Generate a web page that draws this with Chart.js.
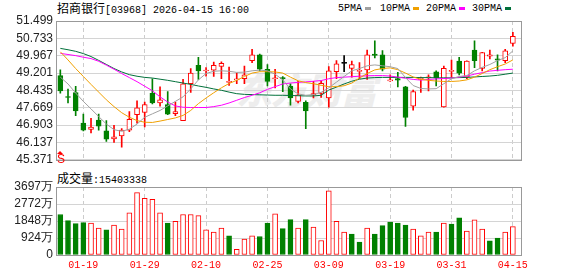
<!DOCTYPE html>
<html><head><meta charset="utf-8">
<script src="https://cdn.jsdelivr.net/npm/chart.js@4.4.1/dist/chart.umd.min.js"></script>
<style>
body{margin:0;background:#fff;width:578px;height:276px;overflow:hidden;position:relative;}
canvas{position:absolute;left:0;}
.t{position:absolute;white-space:nowrap;color:#000;line-height:14px;}
.cjk{font-family:"Noto Sans CJK SC",sans-serif;font-size:12px;}
.mono{font-family:"Liberation Mono","DejaVu Sans Mono",monospace;font-size:10px;}
.sq{position:absolute;width:6px;height:3px;}
#wm{position:absolute;left:236px;top:68px;font-family:"Noto Sans CJK SC",sans-serif;font-size:36px;font-weight:900;font-style:italic;color:#ededed;letter-spacing:-1px;line-height:40px;}
</style></head><body>
<div id="wm">东方财富</div>
<div class="t" style="left:57px;top:1px;"><span class="cjk">招商银行</span><span class="mono">[03968] 2026-04-15 16:00</span></div>
<div class="t mono" style="left:338px;top:2px;">5PMA</div><div class="sq" style="left:365px;top:7px;background:#a0a0a0"></div>
<div class="t mono" style="left:380px;top:2px;">10PMA</div><div class="sq" style="left:413px;top:7px;background:#f0a000"></div>
<div class="t mono" style="left:426px;top:2px;">20PMA</div><div class="sq" style="left:459px;top:7px;background:#ff00ff"></div>
<div class="t mono" style="left:472px;top:2px;">30PMA</div><div class="sq" style="left:505px;top:7px;background:#00703a"></div>
<div class="t" style="left:57px;top:171px;"><span class="cjk">成交量</span><span class="mono">:15403338</span></div>
<canvas id="c1" width="578" height="170" style="top:0"></canvas>
<canvas id="c2" width="578" height="106" style="top:170px"></canvas>
<div style="position:absolute;left:57px;top:151px;width:0;height:0;border-left:3px solid transparent;border-right:3px solid transparent;border-bottom:3px solid #ff0000;"></div>
<div class="t" style="left:57px;top:152px;color:#ff0000;font-family:'Liberation Sans Narrow','Liberation Sans',sans-serif;font-size:12px;">S</div>
<script>
const dateLabels = ['01-19','01-29','02-10','02-25','03-09','03-19','03-31','04-15'];
const dateIndex = [3,11,19,27,35,43,51,59];
const priceTicks = [45.371,46.137,46.903,47.669,48.435,49.201,49.967,50.733,51.499];
const volTicks = [0,924,1848,2772,3697];

const openP  = [49.09,48.15,48.34,46.99,46.71,47.13,46.65,46.29,46.42,46.68,47.36,47.46,48.31,47.88,47.81,47.41,47.10,48.73,49.54,49.29,
                49.33,49.49,48.79,48.90,48.95,49.75,50.01,49.37,48.95,49.00,48.63,47.95,47.91,48.24,48.30,48.10,49.26,49.63,49.41,49.27,
                49.34,50.04,50.01,48.85,48.96,48.59,47.74,48.92,48.99,49.26,47.71,49.27,49.73,49.02,50.22,49.40,49.95,49.83,49.75,50.51];
const highP  = [49.34,48.49,48.62,47.39,47.20,47.39,47.10,46.89,46.75,47.50,47.98,47.92,48.95,48.59,48.38,47.92,48.92,49.40,49.90,49.44,
                49.68,49.70,49.47,49.20,49.51,50.25,50.04,49.58,49.37,49.05,48.73,48.83,47.98,48.83,48.86,49.49,49.75,49.97,49.73,49.66,
                50.22,50.62,50.19,49.12,49.23,48.62,48.45,49.02,49.12,49.30,49.51,49.77,49.90,49.74,50.62,50.12,50.22,50.01,50.25,51.00];
const lowP   = [48.31,47.88,47.32,46.65,46.56,46.68,46.18,46.14,45.93,46.61,46.99,46.82,47.84,47.74,47.36,47.32,47.10,48.35,48.92,49.06,
                49.05,48.95,48.66,48.73,48.73,49.66,49.30,48.63,48.55,48.38,47.78,47.88,46.75,48.10,48.12,47.70,48.95,49.26,49.02,48.95,
                48.92,49.87,49.30,48.83,48.59,46.85,47.56,48.35,48.41,48.63,47.70,49.02,49.12,48.95,49.44,49.30,49.83,49.30,49.66,50.39];
const closeP = [48.41,48.12,47.53,46.68,46.82,46.86,46.28,46.39,46.68,47.16,47.67,47.81,47.88,48.02,47.39,47.50,48.73,49.20,49.30,49.33,
                49.54,49.63,48.83,48.95,49.12,50.01,49.37,48.83,48.99,48.95,48.10,48.24,47.53,48.29,48.75,49.30,49.61,49.63,49.58,49.32,
                50.01,49.98,49.37,48.90,48.89,47.24,48.38,48.97,49.03,48.99,49.41,49.32,49.20,49.73,49.75,50.11,50.00,49.77,50.18,50.82];
// volume in 万
const volume = [2200,1870,1705,1760,1741,1466,1375,1631,1411,2291,3391,3080,3025,2291,1741,1833,2200,2200,2145,1375,
                1246,1466,1045,312,861,1045,1008,1741,2236,1430,1925,1466,1925,1521,788,3483,1833,1246,1137,697,
                1466,1137,1595,1796,1741,1631,1411,1045,1246,1246,1741,1686,2016,1301,1906,1411,770,917,1246,1540];
const ma5  = [49.02,48.72,48.32,47.95,47.62,47.28,46.95,46.70,46.63,46.72,46.95,47.25,47.40,47.55,47.75,47.95,48.15,48.50,48.90,49.18,
              49.28,49.30,49.28,49.23,49.24,49.30,49.33,49.30,49.15,48.90,48.50,48.28,48.22,48.25,48.35,48.55,48.80,49.05,49.30,49.40,
              49.52,49.56,49.52,49.48,49.40,49.00,48.65,48.52,48.50,48.51,48.73,48.95,49.05,49.09,49.30,49.45,49.58,49.75,49.88,50.18];
const ma10 = [50.14,49.78,49.40,49.05,48.70,48.36,48.02,47.72,47.45,47.25,47.10,47.03,47.02,47.08,47.15,47.22,47.33,47.55,47.85,48.10,
              48.33,48.55,48.74,48.88,49.05,49.20,49.26,49.26,49.25,49.20,49.02,48.86,48.78,48.73,48.66,48.60,48.60,48.64,48.76,48.98,
              49.18,49.34,49.40,49.43,49.35,49.20,49.03,48.92,48.88,48.85,48.83,48.83,48.85,48.90,49.02,49.18,49.35,49.48,49.60,49.78];
const ma20 = [50.07,50.02,49.97,49.90,49.84,49.72,49.55,49.37,49.18,49.00,48.82,48.62,48.42,48.15,47.92,47.75,47.69,47.68,47.68,47.68,
              47.72,47.78,47.88,48.00,48.12,48.22,48.33,48.48,48.60,48.72,48.76,48.79,48.81,48.84,48.87,48.95,49.00,49.02,49.04,49.06,
              49.08,49.09,49.09,49.07,49.02,48.97,48.92,48.89,48.92,48.94,48.96,48.98,49.02,49.07,49.15,49.22,49.29,49.32,49.35,49.37];
const ma30 = [50.29,50.23,50.16,50.06,49.93,49.76,49.58,49.40,49.25,49.13,49.06,49.01,48.98,48.93,48.88,48.82,48.76,48.70,48.63,48.57,
              48.50,48.44,48.36,48.29,48.26,48.25,48.24,48.23,48.22,48.22,48.21,48.20,48.19,48.19,48.22,48.45,48.58,48.72,48.84,48.93,
              48.98,49.00,49.01,49.01,49.01,49.01,49.01,49.00,49.00,48.99,48.99,48.99,49.00,49.01,49.03,49.05,49.07,49.10,49.15,49.20];

const RED='#ff0000', GREEN='#008000', BLACK='#000000';
const idx = closeP.map((_,i)=>i);
const candleColor = i => closeP[i]>openP[i]?RED:(closeP[i]<openP[i]?GREEN:BLACK);
const volColor = i => { const ref = i===0?openP[0]:closeP[i-1]; return closeP[i]>ref?RED:GREEN; };
const XMIN=-0.565, XMAX=60.19;

const boxPlugin = {id:'box', afterDraw(chart){
  const a=chart.chartArea, ctx=chart.ctx; ctx.save(); ctx.strokeStyle='#999'; ctx.lineWidth=1;
  ctx.strokeRect(Math.round(a.left)+0.5, Math.round(a.top)+0.5, Math.round(a.right-a.left)-1, Math.round(a.bottom-a.top)); ctx.restore();}};

function xScale(showLabels){
  return {type:'linear', min:XMIN, max:XMAX, offset:false,
    afterBuildTicks: s=>{ s.ticks = dateIndex.map(v=>({value:v})); },
    afterFit: s=>{ s.height = showLabels?21:0; },
    ticks:{display:showLabels, autoSkip:false, maxRotation:0, padding:4, color:RED,
      font:{family:'Liberation Mono', size:10},
      callback:(v)=>{ const k=dateIndex.indexOf(v); return k>=0?dateLabels[k]:''; }},
    grid:{color:'#cccccc', drawTicks:false, offset:false, lineWidth:1},
    border:{display:false, dash:[4,3]}};
}
function yScale(min,max,tickVals,fmt){
  return {type:'linear', min:min, max:max,
    afterBuildTicks: s=>{ s.ticks = tickVals.map(v=>({value:v})); },
    afterFit: s=>{ s.width=56; },
    ticks:{autoSkip:false, padding:3, color:'#222', font:{family:'Liberation Sans', size:12}, callback:fmt},
    grid:{color:'#d4d4d4', drawTicks:false}, border:{display:false}};
}
const lineDs = (data,color)=>({type:'line', data: data.map((v,i)=>({x:i,y:v})), borderColor:color, borderWidth:1,
  pointRadius:0, tension:0, order:0, fill:false});

new Chart(document.getElementById('c1'), {
  type:'bar',
  data:{datasets:[
    lineDs(ma5,'#a0a0a0'), lineDs(ma10,'#f0a000'), lineDs(ma20,'#ff00ff'), lineDs(ma30,'#00703a'),
    {data: idx.map(i=>({x:i, y:[openP[i], closeP[i]]})), barThickness:5, grouped:false, order:1,
     backgroundColor: idx.map(i=>closeP[i]>openP[i]?'#ffffff':candleColor(i)),
     borderColor: idx.map(candleColor), borderWidth:1, borderSkipped:false, minBarLength:1},
    {data: idx.map(i=>({x:i, y:[lowP[i], highP[i]]})), barThickness:1, grouped:false, order:2,
     backgroundColor: idx.map(candleColor), borderWidth:0}
  ]},
  options:{responsive:false, animation:false, devicePixelRatio:1,
    layout:{padding:{left:0,right:56,top:21,bottom:5}},
    plugins:{legend:{display:false}, tooltip:{enabled:false}},
    scales:{ x: xScale(false), y: yScale(45.371, 51.499, priceTicks, v=>v.toFixed(3)) }},
  plugins:[boxPlugin]
});

new Chart(document.getElementById('c2'), {
  type:'bar',
  data:{datasets:[
    {data: idx.map(i=>({x:i, y:volume[i]})), barThickness:5, grouped:false,
     backgroundColor: idx.map(i=>volColor(i)===RED?'#ffffff':GREEN),
     borderColor: idx.map(volColor), borderWidth:1, borderSkipped:false}
  ]},
  options:{responsive:false, animation:false, devicePixelRatio:1,
    layout:{padding:{left:0,right:56,top:17,bottom:0}},
    plugins:{legend:{display:false}, tooltip:{enabled:false}},
    scales:{ x: xScale(true), y: yScale(0, 3697, volTicks, v=>v===0?'0':v+'万') }},
  plugins:[boxPlugin]
});
</script>
</body></html>
